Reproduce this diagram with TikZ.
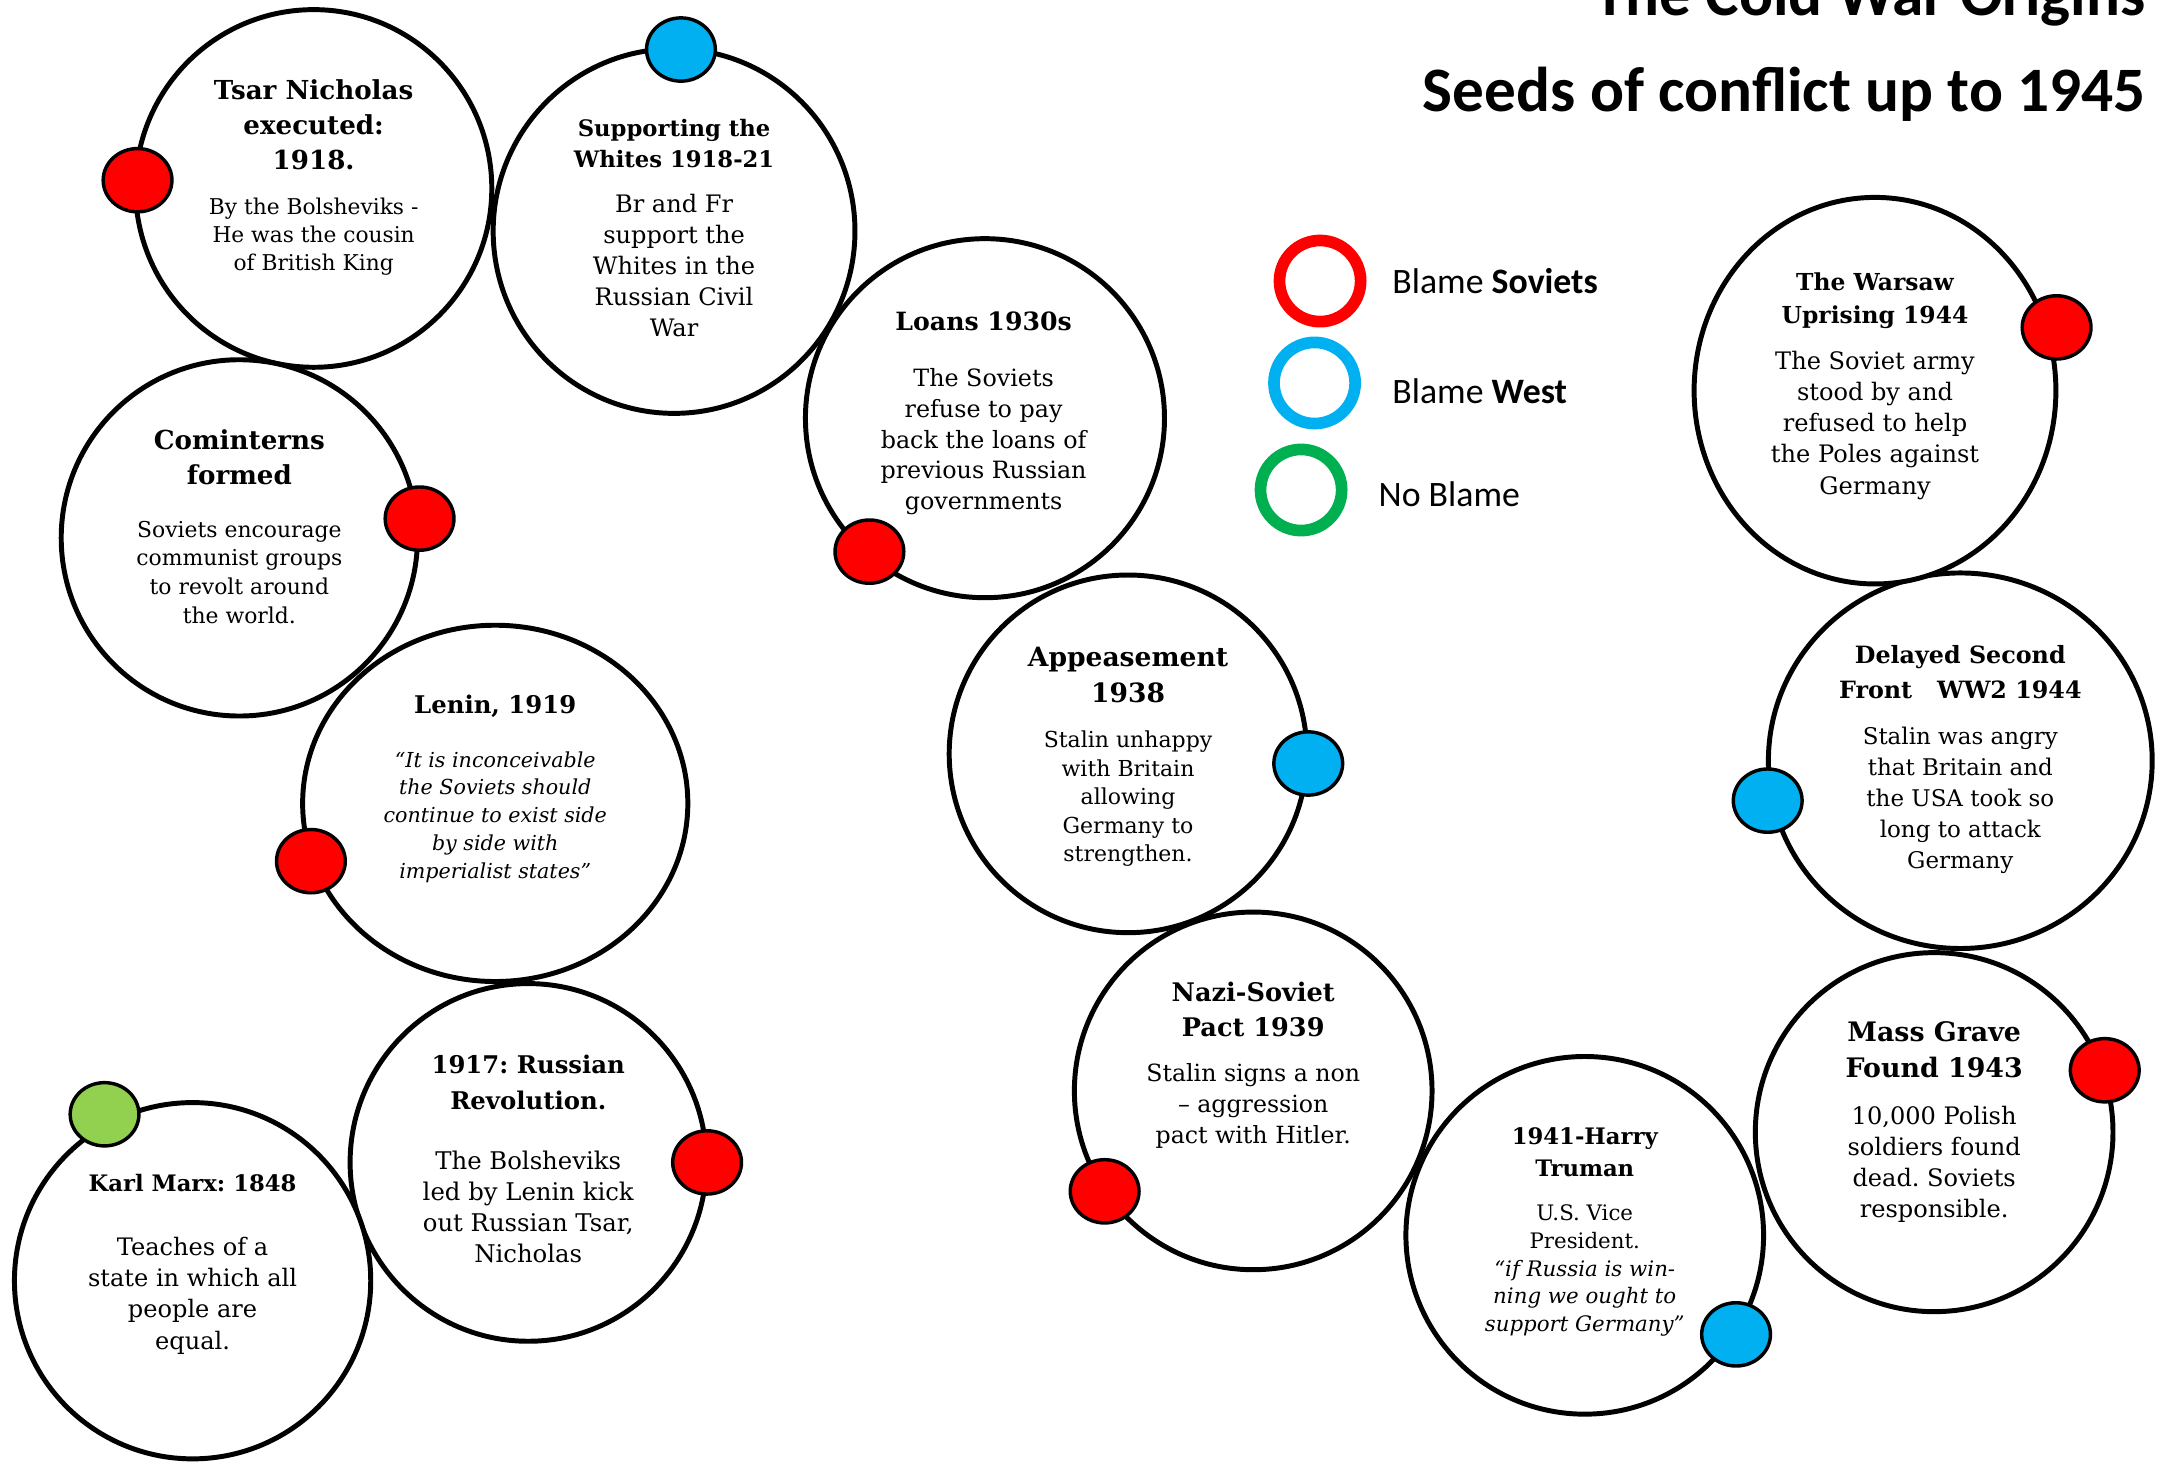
\documentclass[tikz,border=0pt]{standalone}
\usepackage{fontspec}
\usetikzlibrary{shapes.geometric}
\newfontfamily\rock{DejaVu Serif}
\newfontfamily\calfont{Carlito}
\frenchspacing
\definecolor{sovred}{HTML}{FF0000}
\definecolor{westblue}{HTML}{00B0F0}
\definecolor{noblame}{HTML}{00B050}
\definecolor{dotgreen}{HTML}{92D050}
\tikzset{
  bubble/.style={ellipse, draw=black, line width=3.6pt, fill=white, inner sep=0pt},
  blamedot/.style={ellipse, draw=black, line width=2.5pt, minimum width=50pt, minimum height=46pt, inner sep=0pt},
  ttl/.style 2 args={anchor=base, align=center, inner sep=0pt, font=\rock\bfseries\frenchspacing\fontsize{#1}{#2}\selectfont},
  bdy/.style 2 args={anchor=base, align=center, inner sep=0pt, font=\rock\frenchspacing\fontsize{#1}{#2}\selectfont},
  bdyit/.style 2 args={anchor=base, align=center, inner sep=0pt, font=\rock\itshape\frenchspacing\fontsize{#1}{#2}\selectfont},
  ring/.style={circle, line width=8.5pt, minimum size=59pt, inner sep=0pt},
  legtext/.style={anchor=base west, inner sep=0pt, font=\calfont\fontsize{26}{30}\selectfont},
  heading/.style={anchor=base east, inner sep=0pt, font=\calfont\bfseries\fontsize{46}{50}\selectfont}
}
\begin{document}
\begin{tikzpicture}[x=1pt, y=-1pt]
\useasboundingbox[fill=white] (0,0) rectangle (1568,1064);

% headings
\node[heading] (h1) at (1560,11) {The Cold War Origins};
\node[heading] (h2) at (1560,81) {Seeds of conflict up to 1945};

% legend
\node[ring, draw=sovred] (lr) at (959.6,204.3) {};
\node[ring, draw=westblue] (lb) at (955.6,278.4) {};
\node[ring, draw=noblame] (lg) at (945.8,356.2) {};
\node[legtext] (tr) at (1012,213.7) {Blame \textbf{Soviets}};
\node[legtext] (tb) at (1012,293) {Blame \textbf{West}};
\node[legtext] (tg) at (1002,368.5) {No Blame};

% bubbles
\node[bubble, minimum width=259pt, minimum height=260pt] (c1) at (228,137) {};
\node[bubble, minimum width=263pt, minimum height=265pt] (c2) at (490,168) {};
\node[bubble, minimum width=261pt, minimum height=261pt] (c3) at (716,304) {};
\node[bubble, minimum width=259pt, minimum height=259pt] (c4) at (174,391) {};
\node[bubble, minimum width=280pt, minimum height=259pt] (c5) at (360,584) {};
\node[bubble, minimum width=259pt, minimum height=260pt] (c6) at (384,845) {};
\node[bubble, minimum width=259pt, minimum height=259pt] (c7) at (140,931) {};
\node[bubble, minimum width=260pt, minimum height=260pt] (c8) at (820,548) {};
\node[bubble, minimum width=260pt, minimum height=260pt] (c9) at (911,793) {};
\node[bubble, minimum width=260pt, minimum height=260pt] (c10) at (1152,898) {};
\node[bubble, minimum width=260pt, minimum height=261pt] (c11) at (1406,823) {};
\node[bubble, minimum width=279pt, minimum height=273pt] (c12) at (1425,553) {};
\node[bubble, minimum width=263pt, minimum height=281pt] (c13) at (1363,284) {};

% texts (anchor base = baseline of the last line)
\node[ttl={19}{25.5}] (t1) at (228,123) {Tsar Nicholas\\executed:\\1918.};
\node[bdy={15.8}{20.6}] (b1) at (228,196.8) {By the Bolsheviks -\\He was the cousin\\of British King};

\node[ttl={16.5}{22.5}] (t2) at (490,121.9) {Supporting the\\Whites 1918-21};
\node[bdy={17.5}{22.5}] (b2) at (490,244.3) {Br and Fr\\support the\\Whites in the\\Russian Civil\\War};

\node[ttl={18.3}{25}] (t3) at (715,240.2) {Loans 1930s};
\node[bdy={17.3}{22.5}] (b3) at (715,370.7) {The Soviets\\refuse to pay\\back the loans of\\previous Russian\\governments};

\node[ttl={19}{25.8}] (t4) at (174,352.2) {Cominterns\\formed};
\node[bdy={15.9}{21}] (b4) at (174,453.4) {Soviets encourage\\communist groups\\to revolt around\\the world.};

\node[ttl={17.7}{25}] (t5) at (360,518.9) {Lenin, 1919};
\node[bdyit={15}{20.3}] (b5) at (360,638.8) {“It is inconceivable\\the Soviets should\\continue to exist side\\by side with\\imperialist states”};

\node[ttl={17.7}{26}] (t6) at (384,806.4) {1917: Russian\\Revolution.};
\node[bdy={17.7}{22.7}] (b6) at (384,917.9) {The Bolsheviks\\led by Lenin kick\\out Russian Tsar,\\Nicholas};

\node[ttl={16.5}{25}] (t7) at (140,866.3) {Karl Marx: 1848};
\node[bdy={17.5}{22.8}] (b7) at (140,980.7) {Teaches of a\\state in which all\\people are\\equal.};

\node[ttl={19.3}{26}] (t8) at (820,510.6) {Appeasement\\1938};
\node[bdy={16}{20.7}] (b8) at (820,626.4) {Stalin unhappy\\with Britain\\allowing\\Germany to\\strengthen.};

\node[ttl={18.6}{25.4}] (t9) at (911,753.1) {Nazi-Soviet\\Pact 1939};
\node[bdy={17.2}{22.4}] (b9) at (911,831.1) {Stalin signs a non\\– aggression\\pact with Hitler.};

\node[ttl={16.5}{23}] (t10) at (1152,854.9) {1941-Harry\\Truman};
\node[bdy={15.5}{20.2}] (b10) at (1152,968.1) {U.S. Vice\\President.\\\itshape “if Russia is win-\\\itshape ning we ought to\\\itshape support Germany”};

\node[ttl={19.5}{26.4}] (t11) at (1406,783.2) {Mass Grave\\Found 1943};
\node[bdy={17.5}{22.7}] (b11) at (1406,885.2) {10,000 Polish\\soldiers found\\dead. Soviets\\responsible.};

\node[ttl={17.3}{25}] (t12) at (1425,507.4) {Delayed Second\\Front \ \ WW2 1944};
\node[bdy={16.7}{22.6}] (b12) at (1425,631.4) {Stalin was angry\\that Britain and\\the USA took so\\long to attack\\Germany};

\node[ttl={17}{23.8}] (t13) at (1363,235) {The Warsaw\\Uprising 1944};
\node[bdy={17.5}{22.75}] (b13) at (1363,359.3) {The Soviet army\\stood by and\\refused to help\\the Poles against\\Germany};

% blame dots
\node[blamedot, fill=sovred] (d1) at (100,131) {};
\node[blamedot, fill=westblue] (d2) at (495,36) {};
\node[blamedot, fill=sovred] (d3) at (632,401) {};
\node[blamedot, fill=sovred] (d4) at (305,377) {};
\node[blamedot, fill=sovred] (d5) at (226,626) {};
\node[blamedot, fill=sovred] (d6) at (514,845) {};
\node[blamedot, fill=dotgreen] (d7) at (76,810) {};
\node[blamedot, fill=westblue] (d8) at (951,555) {};
\node[blamedot, fill=sovred] (d9) at (803,866) {};
\node[blamedot, fill=westblue] (d10) at (1262,970) {};
\node[blamedot, fill=sovred] (d11) at (1530,778) {};
\node[blamedot, fill=westblue] (d12) at (1285,582) {};
\node[blamedot, fill=sovred] (d13) at (1495,238) {};
\end{tikzpicture}
\end{document}
